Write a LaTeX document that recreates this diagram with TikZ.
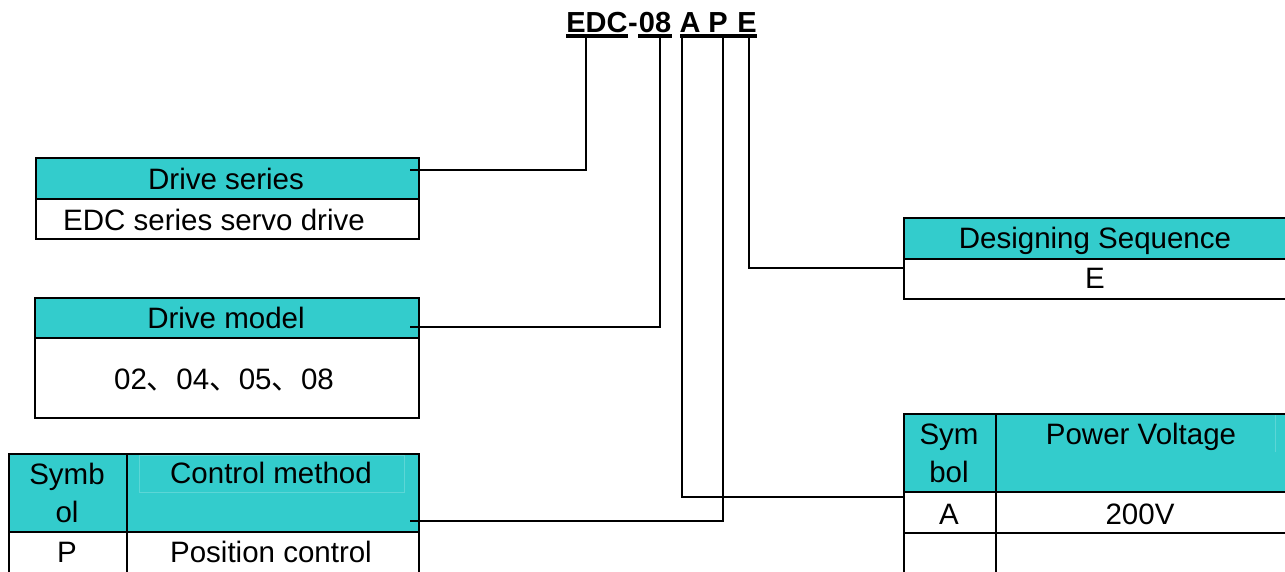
\documentclass[tikz,border=0pt]{standalone}
\usepackage{fontspec}
\setmainfont{Liberation Sans}
\newfontfamily\cjk{Noto Sans CJK SC}
\definecolor{hdrcyan}{RGB}{51,204,204}
\begin{document}
\begin{tikzpicture}[x=1pt,y=-1pt,
  cell/.style={draw=black,line width=2pt,inner sep=0pt,anchor=north west},
  hdr/.style={cell,fill=hdrcyan},
  lbl/.style={font=\fontsize{29.5}{34}\selectfont,inner sep=0pt,anchor=base},
  code/.style={font=\fontsize{29}{34}\selectfont\bfseries,inner sep=0pt,anchor=base},
  link/.style={line width=1.3pt},
  uline/.style={line width=3.5pt}]
\useasboundingbox (0,0) rectangle (1285,571);

% model code
\node[code] (cEDC) at (597,32) {EDC};
\node[code] (cdash) at (633,32) {-};
\node[code] (c08) at (655,32) {08};
\node[code] (cA) at (690,32) {A};
\node[code] (cP) at (718,32) {P};
\node[code] (cE) at (747,32) {E};
\draw[uline] (566,36) -- (628,36);
\draw[uline] (638,36) -- (672,36);
\draw[uline] (680,36) -- (757,36);
\coordinate (dEDC) at (586,36);
\coordinate (d08) at (660,36);
\coordinate (dA) at (682,36);
\coordinate (dP) at (723,36);
\coordinate (dE) at (749,36);

% drive series
\node[hdr,minimum width=383,minimum height=41] (ds) at (35,157) {};
\node[cell,minimum width=383,minimum height=40] (dsb) at (35,198) {};
\node[lbl] (dsT) at (226,189.5) {Drive series};
\node[lbl] (dsV) at (214,230) {EDC series servo drive};

% drive model
\node[hdr,minimum width=384,minimum height=40] (dm) at (34,297) {};
\node[cell,minimum width=384,minimum height=80] (dmb) at (34,337) {};
\node[lbl] (dmT) at (226,328) {Drive model};
\node[lbl] (dmV) at (224,389) {02{\cjk 、}04{\cjk 、}05{\cjk 、}08};

% control method table
\node[hdr,minimum width=118,minimum height=78] (ct1) at (8,453) {};
\node[hdr,minimum width=292,minimum height=78] (ct2) at (126,453) {};
\node[cell,minimum width=118,minimum height=80] (ct3) at (8,531) {};
\node[cell,minimum width=292,minimum height=80] (ct4) at (126,531) {};
\draw[hdrcyan!80!white,line width=0.8pt] (139,455) rectangle (404,492);
\node[lbl] (ctS1) at (67,484) {Symb};
\node[lbl] (ctS2) at (67,522) {ol};
\node[lbl] (ctT) at (271,483) {Control method};
\node[lbl] (ctK) at (67,562) {P};
\node[lbl] (ctV) at (271,562) {Position control};

% power voltage table
\node[hdr,minimum width=92,minimum height=78] (pv1) at (903,413) {};
\node[hdr,minimum width=300,minimum height=78] (pv2) at (995,413) {};
\node[cell,minimum width=92,minimum height=41] (pv3) at (903,491) {};
\node[cell,minimum width=300,minimum height=41] (pv4) at (995,491) {};
\node[cell,minimum width=92,minimum height=80] (pv5) at (903,532) {};
\node[cell,minimum width=300,minimum height=80] (pv6) at (995,532) {};
\draw[hdrcyan!80!white,line width=0.8pt] (1275,415) -- (1275,452);
\node[lbl] (pvS1) at (949,444) {Sym};
\node[lbl] (pvS2) at (949,482) {bol};
\node[lbl] (pvT) at (1141,444) {Power Voltage};
\node[lbl] (pvK) at (949,524) {A};
\node[lbl] (pvV) at (1140,524) {200V};

% designing sequence
\node[hdr,minimum width=392,minimum height=41] (sq) at (903,217) {};
\node[cell,minimum width=392,minimum height=40] (sqb) at (903,258) {};
\node[lbl] (sqT) at (1095,248) {Designing Sequence};
\node[lbl] (sqV) at (1095,288) {E};

% leader lines
\coordinate (eDS) at (410,170);
\coordinate (eDM) at (410,327);
\coordinate (eCT) at (410,521);
\coordinate (ePV) at (905,497);
\coordinate (eSQ) at (905,268);
\draw[link] (dEDC) |- (eDS);
\draw[link] (d08) |- (eDM);
\draw[link] (dP) |- (eCT);
\draw[link] (dA) |- (ePV);
\draw[link] (dE) |- (eSQ);
\end{tikzpicture}
\end{document}
